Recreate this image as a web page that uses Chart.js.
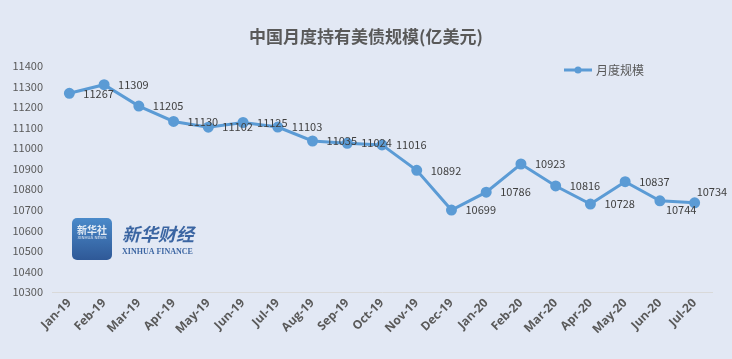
<!DOCTYPE html>
<html><head><meta charset="utf-8">
<script src="https://cdn.jsdelivr.net/npm/chart.js@4.4.0/dist/chart.umd.min.js"></script>
<style>html,body{margin:0;padding:0;background:#E2E8F4;}#wrap{width:732px;height:359px;position:relative;}</style>
</head><body><div id="wrap"><canvas id="c" width="732" height="359"></canvas></div>
<script>
const categories = ["Jan-19","Feb-19","Mar-19","Apr-19","May-19","Jun-19","Jul-19","Aug-19","Sep-19","Oct-19","Nov-19","Dec-19","Jan-20","Feb-20","Mar-20","Apr-20","May-20","Jun-20","Jul-20"];
const holdings = [11267,11309,11205,11130,11102,11125,11103,11035,11024,11016,10892,10699,10786,10923,10816,10728,10837,10744,10734];
const yMin = 10300, yMax = 11400, yStep = 100;
const titleText = "中国月度持有美债规模(亿美元)";
const seriesName = "月度规模";
const labelShift = {17: [6, 9], 18: [2, -11]};

const lineColor = "#5B9BD5";

const deco = {
  id: 'deco',
  beforeDatasetsDraw(chart) {
    const ctx = chart.ctx;
    ctx.save();
    ctx.globalAlpha = 0.85;
    const g = ctx.createLinearGradient(0, 218, 0, 260);
    g.addColorStop(0, '#2f79c2'); g.addColorStop(1, '#0f3f86');
    ctx.fillStyle = g;
    ctx.beginPath();
    if (ctx.roundRect) ctx.roundRect(72, 218, 40, 42, 5); else ctx.rect(72,218,40,42);
    ctx.fill();
    ctx.fillStyle = '#ffffff';
    ctx.font = 'bold 10px "Noto Sans CJK SC"';
    ctx.textAlign = 'center'; ctx.textBaseline = 'middle';
    ctx.fillText('新华社', 92, 230);
    ctx.font = '4px "DejaVu Sans"';
    ctx.fillText('XINHUA NEWS', 92, 238);
    ctx.fillStyle = '#1d4e93';
    ctx.font = 'italic bold 18px "Noto Sans CJK SC"';
    ctx.textAlign = 'left';
    ctx.fillText('新华财经', 122, 234);
    ctx.font = 'bold 8px "Liberation Serif"';
    ctx.fillText('XINHUA FINANCE', 122, 252);
    ctx.restore();
  },
  afterDraw(chart) {
    const ctx = chart.ctx;
    ctx.save();
    ctx.fillStyle = '#595959';
    ctx.font = 'bold 17px "Noto Sans CJK SC"';
    ctx.textAlign = 'center'; ctx.textBaseline = 'middle';
    ctx.fillText(titleText, 366, 37);
    ctx.strokeStyle = lineColor; ctx.lineWidth = 3;
    ctx.beginPath(); ctx.moveTo(564, 70); ctx.lineTo(592, 70); ctx.stroke();
    ctx.fillStyle = lineColor;
    ctx.beginPath(); ctx.arc(578, 70, 3.5, 0, Math.PI*2); ctx.fill();
    ctx.fillStyle = '#595959';
    ctx.font = '12px "Noto Sans CJK SC"';
    ctx.textAlign = 'left';
    ctx.fillText(seriesName, 596, 70);
    const meta = chart.getDatasetMeta(0);
    ctx.fillStyle = '#404040';
    ctx.font = '11px "Noto Sans CJK SC"';
    ctx.textAlign = 'left'; ctx.textBaseline = 'middle';
    meta.data.forEach((pt, i) => {
      const s = labelShift[i] || [14, 0];
      ctx.fillText(String(holdings[i]), pt.x + s[0], pt.y + s[1]);
    });
    ctx.restore();
  }
};

new Chart(document.getElementById('c'), {
  type: 'line',
  data: {
    labels: categories,
    datasets: [{
      label: seriesName,
      data: holdings,
      borderColor: lineColor,
      backgroundColor: lineColor,
      borderWidth: 3,
      pointRadius: 4,
      pointHoverRadius: 4,
      pointBackgroundColor: lineColor,
      pointBorderColor: lineColor,
      tension: 0
    }]
  },
  options: {
    responsive: false,
    animation: false,
    devicePixelRatio: 1,
    layout: { padding: { top: 66, right: 20, left: 0, bottom: 0 } },
    plugins: { legend: { display: false }, title: { display: false }, tooltip: { enabled: false } },
    scales: {
      x: {
        offset: true,
        grid: { display: false, drawTicks: false },
        border: { display: true, color: '#D9D9D9', width: 1 },
        ticks: {
          minRotation: 45, maxRotation: 45, autoSkip: false, padding: 4,
          color: '#595959', font: { family: 'Open Sans', size: 12, weight: 'bold' }
        },
        afterFit(s) { s.height = 67; s.paddingLeft = 0; s.paddingRight = 0; }
      },
      y: {
        min: yMin, max: yMax,
        grid: { display: false, drawTicks: false },
        border: { display: false },
        ticks: {
          stepSize: yStep, padding: 9,
          color: '#595959', font: { family: 'Noto Sans CJK SC', size: 11 },
          callback: (v) => String(v)
        },
        afterFit(s) { s.width = 52; s.paddingTop = 0; s.paddingBottom = 0; }
      }
    }
  },
  plugins: [deco]
});
</script></body></html>
